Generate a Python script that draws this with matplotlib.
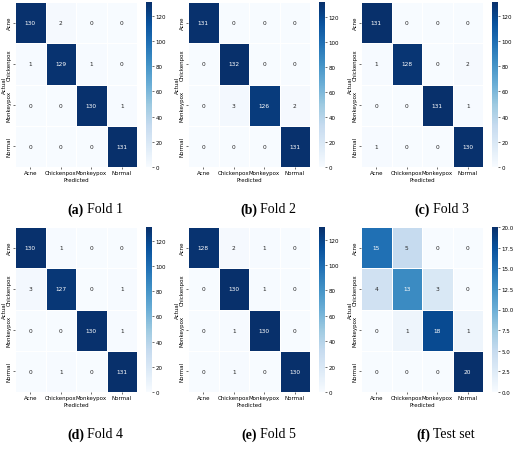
import matplotlib
matplotlib.use("Agg")
import matplotlib.pyplot as plt
import seaborn as sns
import numpy as np

classes = ["Acne", "Chickenpox", "Monkeypox", "Normal"]
fold1 = [[130, 2, 0, 0], [1, 129, 1, 0], [0, 0, 130, 1], [0, 0, 0, 131]]
fold2 = [[131, 0, 0, 0], [0, 132, 0, 0], [0, 3, 126, 2], [0, 0, 0, 131]]
fold3 = [[131, 0, 0, 0], [1, 128, 0, 2], [0, 0, 131, 1], [1, 0, 0, 130]]
fold4 = [[130, 1, 0, 0], [3, 127, 0, 1], [0, 0, 130, 1], [0, 1, 0, 131]]
fold5 = [[128, 2, 1, 0], [0, 130, 1, 0], [0, 1, 130, 0], [0, 1, 0, 130]]
test = [[15, 5, 0, 0], [4, 13, 3, 0], [0, 1, 18, 1], [0, 0, 0, 20]]
mats = [fold1, fold2, fold3, fold4, fold5, test]
tags = ["(a)", "(b)", "(c)", "(d)", "(e)", "(f)"]
names = ["Fold 1", "Fold 2", "Fold 3", "Fold 4", "Fold 5", "Test set"]

W, H = 520, 452
fig = plt.figure(figsize=(W / 100, H / 100), dpi=100)

def box(x0, y0, w, h):
    return [x0 / W, 1 - (y0 + h) / H, w / W, h / H]

for i, m in enumerate(mats):
    col, row = i % 3, i // 3
    ox = col * 173
    oy = 3 if row == 0 else 228
    ax = fig.add_axes(box(ox + 15, oy, 122, 165))
    cax = fig.add_axes(box(ox + 146, oy, 6, 165))
    sns.heatmap(np.array(m), annot=True, fmt="d", cmap="Blues", linewidths=0.5,
                linecolor="white", ax=ax, cbar_ax=cax,
                annot_kws={"fontsize": 4.2},
                xticklabels=classes, yticklabels=classes)
    ax.tick_params(labelsize=4, length=1.5, width=0.4, pad=1)
    ax.set_xticklabels(classes, rotation=0)
    ax.set_xlabel("Predicted", fontsize=4, labelpad=1)
    ax.set_ylabel("Actual", fontsize=4, labelpad=0)
    ax.set_yticklabels(classes, rotation=90, va="center")
    cax.tick_params(labelsize=4, length=1.5, width=0.4, pad=1)
    cax.set_frame_on(False)
    cy = 1 - (oy + 207) / H
    fig.text((ox + 84) / W, cy, tags[i], ha="right", va="center",
             fontsize=10, fontweight="bold", family="Liberation Serif")
    fig.text((ox + 87) / W, cy, names[i], ha="left", va="center",
             fontsize=10, family="Liberation Serif")

fig.savefig("out.png", dpi=100)
